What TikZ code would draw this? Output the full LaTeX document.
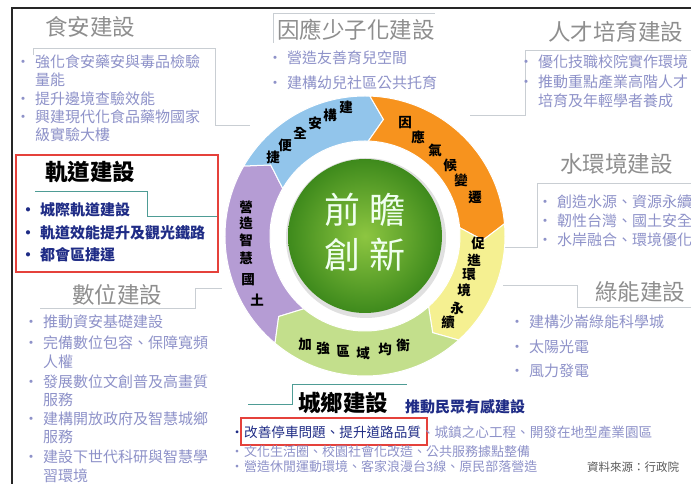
\documentclass[tikz,border=0pt]{standalone}
\usepackage{fontspec}
\newfontfamily\cjk{Noto Sans CJK TC}
\definecolor{fadegrey}{HTML}{8E8E8E}
\definecolor{fadeblue}{HTML}{8E92C9}
\definecolor{navy}{HTML}{1F2C86}
\definecolor{tealline}{HTML}{4E9C95}
\definecolor{redbox}{HTML}{E5413B}
\definecolor{lightline}{HTML}{C9CED3}
\definecolor{ringblue}{HTML}{92C5EB}
\definecolor{ringorange}{HTML}{F7931E}
\definecolor{ringyellow}{HTML}{F5F091}
\definecolor{ringgreen}{HTML}{C3DF8C}
\definecolor{ringpurple}{HTML}{B59CD4}
\definecolor{ballin}{HTML}{8DC641}
\definecolor{ballout}{HTML}{3E8A1C}
\newcommand\bul[4]{\node[#1] (#2) at (#3) {\makebox[0pt][c]{•}\hspace{12pt}#4};}
\newcommand\seg[3]{\fill[#1, draw=white, line width=1pt] (#2:140pt) arc[start angle=#2, end angle=#3, radius=140pt] -- ({#3-7}:118pt) -- (#3:95pt) arc[start angle=#3, end angle=#2, radius=95pt] -- ({#2-7}:118pt) -- cycle;}
\begin{document}
\begin{tikzpicture}[x=1pt,y=1pt,
  fhead/.style={font=\cjk\fontsize{22.5}{22.5}\selectfont, text=fadegrey, anchor=west, inner sep=0pt},
  bhead/.style={font=\cjk\bfseries\fontsize{22.5}{22.5}\selectfont, text=black, anchor=west, inner sep=0pt},
  fitem/.style={font=\cjk\fontsize{15}{15}\selectfont, text=fadeblue, anchor=west, inner sep=0pt},
  nitem/.style={font=\cjk\bfseries\fontsize{15}{15}\selectfont, text=navy, anchor=west, inner sep=0pt},
  sitem/.style={font=\cjk\fontsize{13.6}{13.6}\selectfont, text=fadeblue, anchor=west, inner sep=0pt},
  ringch/.style={font=\cjk\bfseries\fontsize{13.5}{13.5}\selectfont, text=black, inner sep=0pt},
  bigch/.style={font=\cjk\fontsize{36}{36}\selectfont, text=white!94!green, inner sep=0pt},
  thinline/.style={draw=lightline, line width=0.8pt},
  tline/.style={draw=tealline, line width=1pt},
  rbox/.style={draw=redbox, line width=2.2pt}]
\useasboundingbox (0,0) rectangle (691,484);
\fill[white] (0,0) rectangle (691,484);
% outer frame
\draw[line width=2pt, black!85] (12,0) -- (12,476) -- (691,476);

% decorative thin lines
\draw[thinline] (33,429) -- (33,436) -- (215,436) -- (215,359) -- (250,359);
\draw[thinline] (273,441) -- (273,471) -- (435,471);
\draw[thinline] (470,369) -- (525,369) -- (525,434) -- (691,434);
\draw[thinline] (500,237) -- (537,237) -- (537,301) -- (691,301);
\draw[thinline] (40,176) -- (195,176) -- (195,196) -- (222,196);
\draw[thinline] (503,199) -- (577,199) -- (577,177) -- (691,177);
\draw[tline] (35,292) -- (147,292) -- (147,267) -- (218,267);
\draw[tline] (248,79) -- (292,79) -- (292,99) -- (407,99);

% ring
\begin{scope}[shift={(365,248)}]
  \seg{ringpurple}{230}{150}
  \seg{ringblue}{150}{88}
  \seg{ringorange}{88}{5}
  \seg{ringyellow}{5}{-48}
  \seg{ringgreen}{-48}{-130}
  \fill[black!12] (1,-2) circle (80pt);
  \shade[inner color=ballin, outer color=ballout] (0,0) circle (77pt);
\end{scope}

% center text
\node[bigch] (c1) at (342,274) {前};
\node[bigch] (c2) at (387,274) {瞻};
\node[bigch] (c3) at (342,229) {創};
\node[bigch] (c4) at (387,229) {新};

% ring characters
\node[ringch] (b1) at (273,327) {捷};
\node[ringch] (b2) at (285,339) {便};
\node[ringch] (b3) at (300,351) {全};
\node[ringch] (b4) at (315,361) {安};
\node[ringch] (b5) at (330,369) {構};
\node[ringch] (b6) at (346,377) {建};
\node[ringch] (o1) at (405,361) {因};
\node[ringch] (o2) at (418,347) {應};
\node[ringch] (o3) at (435,334) {氣};
\node[ringch] (o4) at (450,319) {候};
\node[ringch] (o5) at (461,304) {變};
\node[ringch] (o6) at (475,287) {遷};
\node[ringch] (y1) at (478,241) {促};
\node[ringch] (y2) at (474,224) {進};
\node[ringch] (y3) at (469,209) {環};
\node[ringch] (y4) at (464,194) {境};
\node[ringch] (y5) at (457,176) {永};
\node[ringch] (y6) at (448,162) {續};
\node[ringch] (g1) at (305,140) {加};
\node[ringch] (g2) at (323,136) {強};
\node[ringch] (g3) at (343,133) {區};
\node[ringch] (g4) at (363,131) {域};
\node[ringch] (g5) at (385,135) {均};
\node[ringch] (g6) at (403,139) {衡};
\node[ringch] (p1) at (246,277) {營};
\node[ringch] (p2) at (246,261) {造};
\node[ringch] (p3) at (246,244) {智};
\node[ringch] (p4) at (246,226) {慧};
\node[ringch] (p5) at (248,204) {國};
\node[ringch] (p6) at (257,184) {土};

% headings
\node[fhead] (h1) at (45,457) {食安建設};
\node[fhead] (h2) at (277,454) {因應少子化建設};
\node[fhead] (h3) at (548,452) {人才培育建設};
\node[fhead] (h4) at (560,320) {水環境建設};
\node[fhead] (h5) at (72,189) {數位建設};
\node[fhead] (h6) at (595,192) {綠能建設};
\node[bhead] (h7) at (45,312) {軌道建設};
\node[bhead] (h8) at (298,81) {城鄉建設};
\node[nitem] (h8s) at (405,77) {推動民眾有感建設};

% 食安
\bul{fitem}{a1}{23,422}{強化食安藥安與毒品檢驗}
\node[fitem] (a1c) at (35,404) {量能};
\bul{fitem}{a2}{23,385}{提升邊境查驗效能}
\bul{fitem}{a3}{23,367}{興建現代化食品藥物國家}
\node[fitem] (a3c) at (35,349) {級實驗大樓};

% 因應少子化
\bul{fitem}{k1}{275,426}{營造友善育兒空間}
\bul{fitem}{k2}{275,401}{建構幼兒社區公共托育}

% 人才培育
\bul{fitem}{t1}{526,422}{優化技職校院實作環境}
\bul{fitem}{t2}{526,402}{推動重點產業高階人才}
\node[fitem] (t2c) at (538,383) {培育及年輕學者養成};

% 水環境
\bul{fitem}{w1}{545,282}{創造水源、資源永續}
\bul{fitem}{w2}{545,263}{韌性台灣、國土安全}
\bul{fitem}{w3}{545,244}{水岸融合、環境優化}

% 軌道
\draw[rbox] (16,329) rectangle (218,212);
\bul{nitem}{r1}{28,274}{城際軌道建設}
\bul{nitem}{r2}{28,251}{軌道效能提升及觀光鐵路}
\bul{nitem}{r3}{28,229}{都會區捷運}

% 數位
\bul{fitem}{d1}{31,162}{推動資安基礎建設}
\bul{fitem}{d2}{31,141}{完備數位包容、保障寬頻}
\node[fitem] (d2c) at (43,122) {人權};
\bul{fitem}{d3}{31,102}{發展數位文創普及高畫質}
\node[fitem] (d3c) at (43,84) {服務};
\bul{fitem}{d4}{31,65}{建構開放政府及智慧城鄉}
\node[fitem] (d4c) at (43,47) {服務};
\bul{fitem}{d5}{31,27}{建設下世代科研與智慧學}
\node[fitem] (d5c) at (43,8) {習環境};

% 綠能
\bul{fitem}{e1}{517,162}{建構沙崙綠能科學城}
\bul{fitem}{e2}{517,137}{太陽光電}
\bul{fitem}{e3}{517,113}{風力發電}

% 城鄉
\draw[rbox] (241,66) rectangle (427,39);
\node[sitem] (u1) at (237,52) {\makebox[0pt][c]{\color{navy}•}\hspace{7pt}{\color{navy}改善停車問題、提升道路品質}、城鎮之心工程、開發在地型產業園區};
\node[sitem, font=\cjk\fontsize{13}{13}\selectfont] (u2) at (237,32) {\makebox[0pt][c]{•}\hspace{7pt}文化生活圈、校園社會化改造、公共服務據點整備};
\node[sitem, font=\cjk\fontsize{13}{13}\selectfont] (u3) at (237,17) {\makebox[0pt][c]{•}\hspace{7pt}營造休閒運動環境、客家浪漫台3線、原民部落營造};
\node[font=\cjk\fontsize{11.5}{11.5}\selectfont, text=black!65, anchor=west, inner sep=0pt] (src) at (587,17) {資料來源：行政院};
\end{tikzpicture}
\end{document}
